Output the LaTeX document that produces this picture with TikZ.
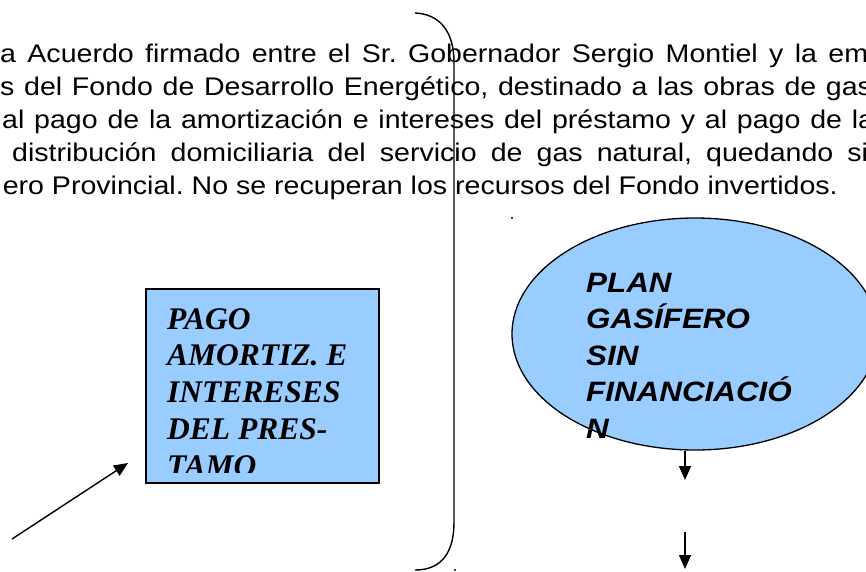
\documentclass[tikz,border=0pt]{standalone}
\usepackage{fontspec}
\usetikzlibrary{shapes.geometric, arrows.meta}
\newfontfamily\bodyfont[FakeStretch=1.12]{Liberation Sans}
\newfontfamily\serifbi{Liberation Serif}
\definecolor{planblue}{RGB}{153,204,255}
\frenchspacing

\begin{document}
\begin{tikzpicture}[x=1pt, y=-1pt,
    bodyline/.style={anchor=base west, inner sep=0pt, font=\bodyfont\fontsize{25.5}{33}\selectfont},
    arr/.style={line width=1.4pt, -{Triangle[length=14pt, width=12pt]}}]
  \useasboundingbox (0,0) rectangle (866,571);
  \clip (0,0) rectangle (866,571);

  % text of the agreement, cut at both sides
  \node[bodyline] (l1) at (0,62) {\makebox[868pt][s]{a Acuerdo firmado entre el Sr. Gobernador Sergio Montiel y la em}};
  \node[bodyline] (l2) at (0,95) {\makebox[872pt][s]{s del Fondo de Desarrollo Energético, destinado a las obras de gas}};
  \node[bodyline] (l3) at (2,128) {\makebox[872pt][s]{al pago de la amortización e intereses del préstamo y al pago de la}};
  \node[bodyline] (l4) at (12,161) {\makebox[856pt][s]{distribución domiciliaria del servicio de gas natural, quedando si}};
  \node[bodyline, anchor=base east] (l5) at (838,194) {ero Provincial. No se recuperan los recursos del Fondo invertidos.};

  % the bracket
  \draw[line width=1.4pt] (415,13) .. controls (440,14) and (454,32) .. (454,62)
    -- (454,522) .. controls (454,552) and (442,570) .. (415,570);
  \fill (512,218) circle (1.1pt);
  \fill (455,570) circle (1.1pt);

  % left box
  \node[draw, fill=planblue, line width=1.4pt, minimum width=233pt, minimum height=194pt, inner sep=0pt] (pago) at (262.5,386) {};
  \begin{scope}
    \clip (146,289) rectangle (379,472);
    \node[anchor=base west, align=left, inner sep=0pt, font=\serifbi\bfseries\itshape\fontsize{31.5}{36.7}\selectfont] (pagotxt) at (167,476)
      {PAGO\\AMORTIZ. E\\INTERESES\\DEL PRES-\\TAMO};
  \end{scope}
  \coordinate (tail) at (12,539);
  \coordinate (tip) at (128,463);
  \draw[arr] (tail) -- (tip);

  % right ellipse
  \node[ellipse, draw, fill=planblue, line width=1.3pt, minimum width=366pt, minimum height=232pt, inner sep=0pt] (plan) at (695,334) {};
  \node[anchor=base west, align=left, inner sep=0pt, font=\bodyfont\bfseries\itshape\fontsize{28}{36.5}\selectfont] (plantxt) at (586,438)
    {PLAN\\GASÍFERO\\SIN\\FINANCIACIÓ\\N};
  \coordinate (d1) at (685,480);
  \coordinate (d2a) at (685,532);
  \coordinate (d2b) at (685,569);
  \draw[arr] (plan.south -| d1) -- (d1);
  \draw[arr] (d2a) -- (d2b);
\end{tikzpicture}
\end{document}
